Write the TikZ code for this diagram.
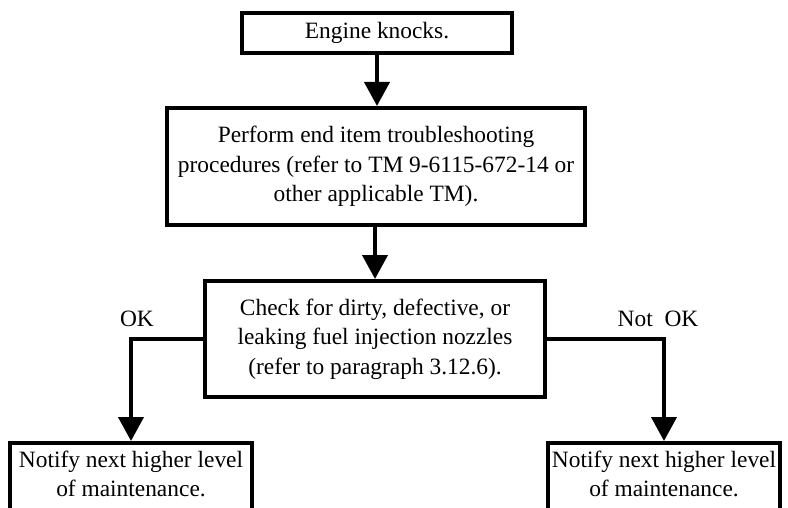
\documentclass[tikz,border=0pt]{standalone}
\usepackage{fontspec}
\setmainfont{Liberation Serif}
\usetikzlibrary{arrows.meta}

\begin{document}
\begin{tikzpicture}[x=0.5pt, y=-0.5pt, line width=2pt,
    box/.style={draw, rectangle, align=center, inner xsep=1pt, inner ysep=4pt,
      font=\fontsize{11.7}{14.75}\selectfont},
    flow/.style={-{Triangle[width=12.5pt, length=12pt]}},
    lbl/.style={font=\fontsize{11.7}{14.75}\selectfont}]
		\clip (0, 0) rectangle (788, 508);

		\node[box, minimum width=135pt, minimum height=20pt] (knock) at (377, 33) {Engine knocks.};
		\node[box, minimum width=209pt, minimum height=58.5pt] (endtm) at (376, 166.5)
		  {Perform end item troubleshooting\\procedures (refer to TM 9-6115-672-14 or\\other applicable TM).};
		\node[box, minimum width=170pt, minimum height=58pt] (nozzle) at (375, 339)
		  {Check for dirty, defective, or\\leaking fuel injection nozzles\\(refer to paragraph 3.12.6).};
		\node[box, anchor=north, minimum width=121pt, text depth=30pt] (okbox) at (131, 441)
		  {Notify next higher level\\of maintenance.};
		\node[box, anchor=north, minimum width=116pt, text depth=30pt] (nokbox) at (664, 441)
		  {Notify next higher level\\of maintenance.};

		\node[lbl] (oklbl) at (137, 319) {OK};
		\node[lbl] (noklbl) at (658, 319) {Not~ OK};

		\draw[flow] (knock.south) -- (knock.south |- endtm.north);
		\draw[flow] (endtm.south -| nozzle.north) -- (nozzle.north);
		\draw[flow] (nozzle.west) -| (okbox.north);
		\draw[flow] (nozzle.east) -| (nokbox.north);
\end{tikzpicture}
\end{document}
